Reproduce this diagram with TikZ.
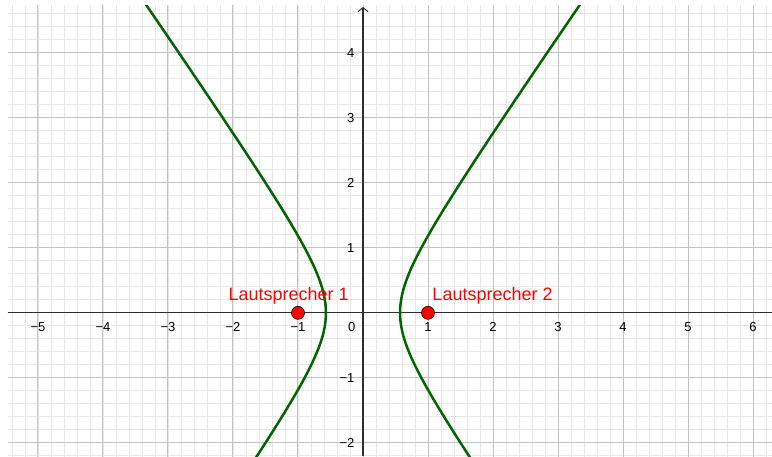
\documentclass[tikz,border=0pt]{standalone}
\usepackage{fontspec}
\setmainfont{Liberation Sans}
\usetikzlibrary{arrows.meta}
\definecolor{minorgrid}{HTML}{E8E8E8}
\definecolor{majorgrid}{HTML}{C2C2C2}
\definecolor{axiscol}{HTML}{2E2E2E}
\definecolor{curvecol}{HTML}{006400}
\tikzset{
  minorline/.style={draw=minorgrid, line width=0.8pt},
  majorline/.style={draw=majorgrid, line width=1pt},
  axisline/.style={draw=axiscol, line width=1.1pt},
  curveline/.style={draw=curvecol, line width=2.5pt},
  ticklab/.style={inner sep=0pt, font=\fontsize{13}{15}\selectfont, text=black},
  pointdot/.style={circle, fill=red, draw=black, line width=0.6pt, minimum size=13pt, inner sep=0pt},
  ptlabel/.style={inner sep=0pt, anchor=base west, text=red, font=\fontsize{18}{21}\selectfont}
}
\begin{document}
\begin{tikzpicture}[x=65pt,y=65pt]
\useasboundingbox (-5.5846,-2.2031) rectangle (6.2923,4.8123);
\fill[white] (-5.5846,-2.2031) rectangle (6.2923,4.8123);
\begin{scope}
\clip (-5.4615,-2.2031) rectangle (6.2923,4.72);
\draw[minorline, step=0.2] (-5.8,-2.4) grid (6.6,5);
\draw[majorline, step=1] (-5.8,-2.4) grid (6.6,5);
\end{scope}
\coordinate (xl) at (-5.4615,0);
\coordinate (xr) at (6.2923,0);
\coordinate (yb) at (0,-2.2031);
\coordinate (yt) at (0,4.705);
\draw[axisline] (xl) -- (xr);
\draw[axisline, -{Straight Barb[length=4pt,width=10pt,line width=1pt]}] (yb) -- (yt);
\begin{scope}
\clip (-5.4615,-2.2031) rectangle (6.2923,4.72);
\draw[curveline] plot[domain=-1.9:2.6, samples=120, smooth] ({0.57*cosh(\x)}, {0.8216*sinh(\x)});
\draw[curveline] plot[domain=-1.9:2.6, samples=120, smooth] ({-0.57*cosh(\x)}, {0.8216*sinh(\x)});
\end{scope}
\foreach \k/\t in {-5/{−5},-4/{−4},-3/{−3},-2/{−2},-1/{−1},1/1,2/2,3/3,4/4,5/5,6/6}{
  \node[ticklab, anchor=base] (xt\k) at (\k,-0.28) {\t};
}
\node[ticklab, anchor=base] (zero) at (-0.174,-0.28) {0};
\foreach \k/\t in {-2/{−2},-1/{−1},1/1,2/2,3/3,4/4}{
  \node[ticklab, anchor=east] (yt\k) at (-0.13,\k) {\t};
}
\node[pointdot] (p1) at (-1,0) {};
\node[pointdot] (p2) at (1,0) {};
\node[ptlabel] (l1) at (-2.072,0.186) {Lautsprecher 1};
\node[ptlabel] (l2) at (1.066,0.186) {Lautsprecher 2};
\end{tikzpicture}
\end{document}
